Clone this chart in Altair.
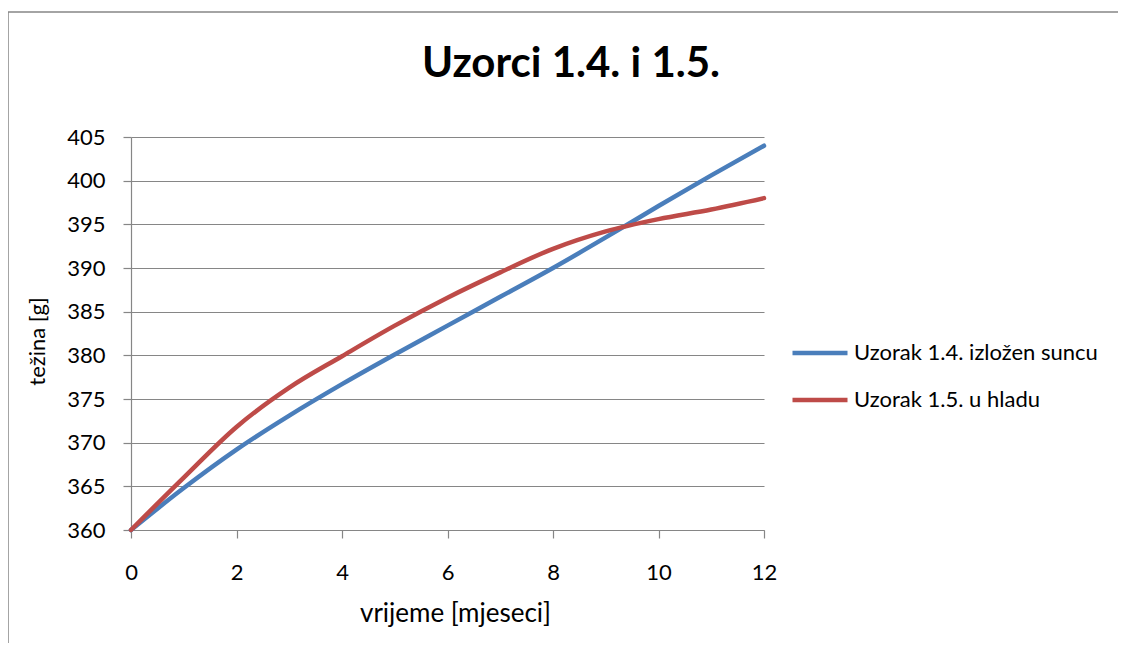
import altair as alt
import pandas as pd

# ---- data ----
months = list(range(13))
blue_vals = [360.0, 364.8, 369.2, 373.1, 376.7, 380.1, 383.4, 386.7, 390.0, 393.5, 397.1, 400.6, 404.0]
red_vals = [360.0, 366.0, 371.8, 376.3, 379.9, 383.4, 386.6, 389.5, 392.2, 394.2, 395.6, 396.7, 398.0]
series_names = ["Uzorak 1.4. izložen suncu", "Uzorak 1.5. u hladu"]
series_colors = ["#4A7EBB", "#BE4B48"]
y_ticks = list(range(360, 406, 5))
x_ticks = list(range(0, 13, 2))
chart_title = "Uzorci 1.4. i 1.5."

rows = []
for name, vals in zip(series_names, [blue_vals, red_vals]):
    for m, v in zip(months, vals):
        rows.append({"mjesec": m, "tezina": v, "serija": name})
df = pd.DataFrame(rows)

FONT = "Lato"
GRAY = "#868686"

W, H = 633, 393
PAD_L, PAD_T = 123, 129
PAD_R = 1110 - PAD_L - W
PAD_B = 635 - PAD_T - H

frame = alt.Chart(pd.DataFrame({"k": [0]})).mark_rect(
    fillOpacity=0, stroke=GRAY, strokeWidth=1.5
).encode(
    x=alt.value(-123), x2=alt.value(1400),
    y=alt.value(-125), y2=alt.value(1400),
)

title_mark = alt.Chart(pd.DataFrame({"t": [chart_title]})).mark_text(
    fontSize=42, fontWeight="bold", align="center", baseline="alphabetic",
    color="#000000", font=FONT,
).encode(
    text="t:N", x=alt.value(440), y=alt.value(-60),
)

lines = alt.Chart(df).mark_line(
    strokeWidth=4.5, interpolate="monotone", strokeCap="round", strokeJoin="round"
).encode(
    x=alt.X(
        "mjesec:Q",
        scale=alt.Scale(domain=[0, 12], nice=False, zero=False),
        axis=alt.Axis(
            values=x_ticks, title="vrijeme [mjeseci]", grid=False,
            labelFontSize=22, labelPadding=24, tickSize=8, labelFlush=False,
            titleFontSize=26, titleFontWeight="normal",
            titleX=324, titleY=91, titleBaseline="alphabetic",
        ),
    ),
    y=alt.Y(
        "tezina:Q",
        scale=alt.Scale(domain=[360, 405], nice=False, zero=False),
        axis=alt.Axis(
            values=y_ticks, title="težina [g]", grid=True,
            labelFontSize=22, labelPadding=18, tickSize=8,
            titleFontSize=22, titleFontWeight="normal",
            titleX=-94, titleY=204, titleBaseline="middle", titleAngle=-90,
        ),
    ),
    color=alt.Color(
        "serija:N",
        scale=alt.Scale(domain=series_names, range=series_colors),
        legend=alt.Legend(
            title=None, orient="none", legendX=659, legendY=201,
            symbolType="stroke", symbolSize=3025, symbolStrokeWidth=4.5,
            clipHeight=30, rowPadding=17, labelFontSize=22, labelOffset=4,
            labelColor="#000000", labelLimit=400,
        ),
    ),
    order=alt.Order("serija:N"),
)

chart = alt.layer(frame, title_mark, lines).properties(
    width=W, height=H,
    padding={"left": PAD_L, "top": PAD_T, "right": PAD_R, "bottom": PAD_B},
    autosize=alt.AutoSizeParams(type="none"),
).configure(
    font=FONT,
    background="white",
).configure_view(
    stroke=None,
).configure_axis(
    domainColor=GRAY, tickColor=GRAY, gridColor=GRAY, gridWidth=1.2,
    domainWidth=1.2, tickWidth=1.2,
    labelColor="#000000", titleColor="#000000",
    labelFont=FONT, titleFont=FONT,
)

chart.save("out.html", embed_options={"renderer": "svg", "actions": False})
